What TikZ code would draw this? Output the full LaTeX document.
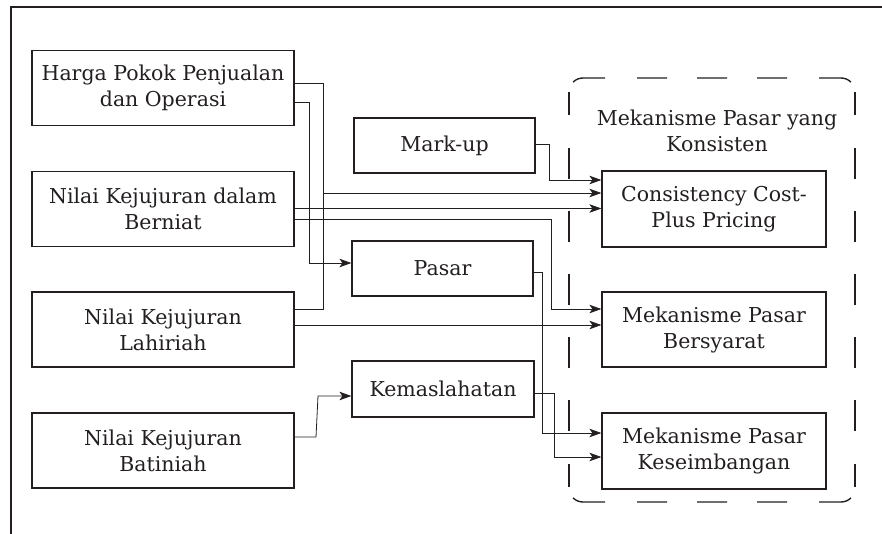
\documentclass[tikz,border=0pt]{standalone}
\usepackage{fontspec}
\setmainfont{DejaVu Serif}
\usetikzlibrary{arrows.meta}
\definecolor{ink}{HTML}{231F20}
\tikzset{
  txt/.style={text=ink, align=center, font=\fontsize{20.5}{26}\selectfont},
  box/.style={txt, draw=ink, line width=1.2pt, rectangle, inner sep=0pt},
  lbox/.style={box, minimum width=262pt, minimum height=75pt},
  mbox/.style={box, minimum width=181pt, minimum height=55pt},
  rbox/.style={box, minimum width=224pt, minimum height=76pt},
  conn/.style={draw=ink, line width=0.8pt},
  arr/.style={conn, -{Stealth[length=12pt,width=8.5pt,inset=3pt]}},
  grpline/.style={draw=ink, line width=1.4pt},
  hdash/.style={grpline, dash pattern=on 33pt off 32pt on 30pt off 30pt on 30pt off 30pt on 30pt off 32pt on 33pt off 200pt},
  vdash/.style={grpline, dash pattern=on 23pt off 33pt on 31pt off 32pt on 31pt off 32pt on 31pt off 32pt on 31pt off 32pt on 31pt off 33pt on 23pt off 200pt},
}
\begin{document}
\begin{tikzpicture}[x=1pt,y=-1pt]
\useasboundingbox (0,0) rectangle (882,533);
% frame (top and left sides visible)
\draw[ink, line width=1.6pt] (11,540) -- (11,7) -- (890,7);
% dashed group
\draw[hdash] (573.1,82.1) arc[start angle=135, end angle=90, radius=14pt] -- (841,78)
  arc[start angle=90, end angle=45, radius=14pt];
\draw[hdash] (573.1,497.9) arc[start angle=225, end angle=270, radius=14pt] -- (841,502)
  arc[start angle=270, end angle=315, radius=14pt];
\draw[vdash] (569,92) -- (569,488);
\draw[vdash] (855,92) -- (855,488);
\node[txt] (grp) at (717,131) {Mekanisme Pasar yang\\Konsisten};
% left column
\node[lbox] (hpp) at (163,88) {Harga Pokok Penjualan\\dan Operasi};
\node[lbox] (nkb) at (163,209) {Nilai Kejujuran dalam\\Berniat};
\node[lbox] (nkl) at (163,329.5) {Nilai Kejujuran\\Lahiriah};
\node[lbox] (nkbat) at (163,450.5) {Nilai Kejujuran\\Batiniah};
% middle column
\node[mbox] (markup) at (444.5,145.5) {Mark-up};
\node[mbox] (pasar) at (442.5,268.5) {Pasar};
\node[mbox, minimum width=182pt, minimum height=56pt] (kemas) at (443,389) {Kemaslahatan};
% right column
\node[rbox] (cons) at (714,209) {Consistency Cost-\\Plus Pricing};
\node[rbox, minimum height=75pt] (mpb) at (714,329.5) {Mekanisme Pasar\\Bersyarat};
\node[rbox] (mpk) at (714,451) {Mekanisme Pasar\\Keseimbangan};
% connectors
\draw[arr] ([yshift=5pt]hpp.east) -| (323,193) -- ([yshift=16pt]cons.west);
\draw[conn] ([yshift=20.5pt]nkl.east) -| (323,193);
\draw[arr] ([yshift=-14pt]hpp.east) -| (309,263) -- ([yshift=5.5pt]pasar.west);
\draw[arr] ([yshift=0.5pt]nkb.east) -- ([yshift=0.5pt]cons.west);
\draw[arr] ([yshift=-10pt]nkb.east) -| (551,309) -- ([yshift=20.5pt]mpb.west);
\draw[arr] ([yshift=1.5pt]markup.east) -| (549,180) -- ([yshift=29pt]cons.west);
\draw[arr] ([yshift=4.5pt]nkl.east) -- ([yshift=4.5pt]mpb.west);
\draw[arr] ([yshift=-3.5pt]pasar.east) -| (542,433) -- ([yshift=18pt]mpk.west);
\draw[arr] ([yshift=-4pt]kemas.east) -| (554,457) -- ([yshift=-6pt]mpk.west);
\draw[arr] ([yshift=13.5pt]nkbat.east) -- (316,437) -- (318,396) -- ([yshift=-7pt]kemas.west);
\end{tikzpicture}
\end{document}
